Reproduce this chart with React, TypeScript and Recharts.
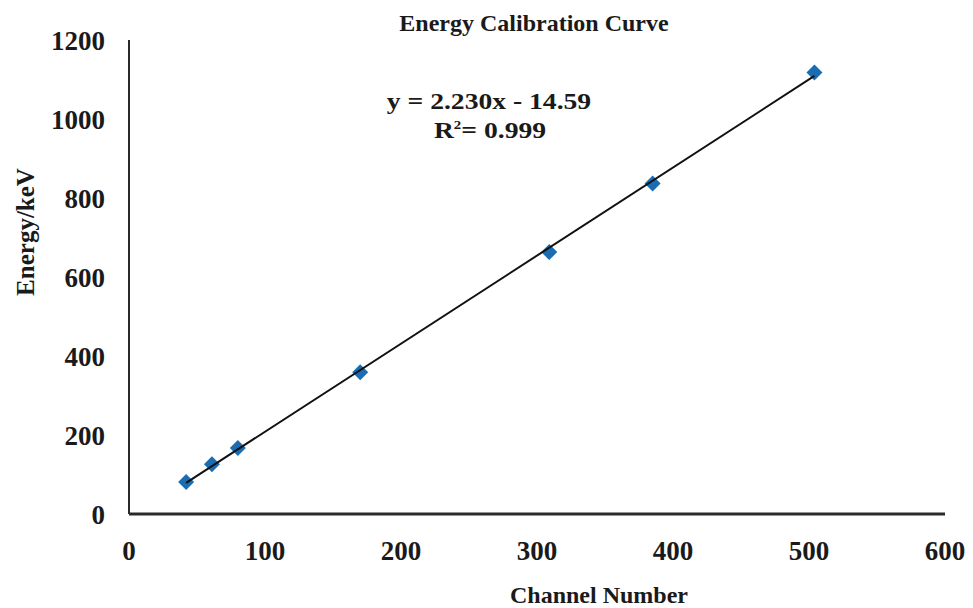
import React from "react";
import { ScatterChart, Scatter, XAxis, YAxis } from "recharts";

// channel / energy pairs
const channels = [42, 61, 80, 170, 309, 385, 504];
const energies = [81, 126, 167, 359, 663, 837, 1118];

// linear fit y = 2.230x - 14.59, drawn between the first and last channel
const trendChannels = [42, 504];
const trendEnergies = [79, 1109];

const xTicks = [0, 100, 200, 300, 400, 500, 600];
const yTicks = [0, 200, 400, 600, 800, 1000, 1200];

const points = channels.map((c, i) => ({ x: c, y: energies[i] }));
const trend = trendChannels.map((c, i) => ({ x: c, y: trendEnergies[i] }));

const SERIF = '"Liberation Serif", "Times New Roman", serif';

const Diamond = (props: any) => {
  const { cx, cy } = props;
  if (cx == null || cy == null) return <g />;
  const r = 8;
  return (
    <polygon
      points={`${cx},${cy - r} ${cx + r},${cy} ${cx},${cy + r} ${cx - r},${cy}`}
      fill="#1b6db3"
    />
  );
};

const Txt = ({ x, y, size, bold, rotate, stretch, children }: any) => (
  <div
    style={{
      position: "absolute",
      left: x,
      top: y,
      transform: `translate(-50%, -50%)${rotate ? ` rotate(${rotate}deg)` : ""}${stretch ? ` scaleX(${stretch})` : ""}`,
      fontFamily: SERIF,
      fontSize: size,
      fontWeight: bold ? 700 : 400,
      lineHeight: 1,
      whiteSpace: "nowrap",
      color: "#1a1a1a",
    }}
  >
    {children}
  </div>
);

const tickStyle = { fontFamily: SERIF, fontSize: 27, fontWeight: 700, fill: "#1a1a1a" };

export default function App() {
  return (
    <div style={{ position: "absolute", left: 0, top: 0, width: 973, height: 608, background: "#fff" }}>
      <ScatterChart width={973} height={608} margin={{ top: 40, right: 28, bottom: 0, left: 0 }}>
        <XAxis
          type="number"
          dataKey="x"
          domain={[0, 600]}
          ticks={xTicks}
          height={94}
          tickSize={0}
          tickMargin={27}
          axisLine={{ stroke: "#2a2a2a", strokeWidth: 3 }}
          tick={tickStyle}
        />
        <YAxis
          type="number"
          dataKey="y"
          domain={[0, 1200]}
          ticks={yTicks}
          width={129}
          tickSize={0}
          tickMargin={24}
          axisLine={{ stroke: "#2a2a2a", strokeWidth: 2 }}
          tick={tickStyle}
        />
        <Scatter data={points} shape={Diamond} isAnimationActive={false} />
        <Scatter
          data={trend}
          line={{ stroke: "#111", strokeWidth: 2 }}
          shape={() => <g />}
          isAnimationActive={false}
        />
      </ScatterChart>
      <Txt x={534} y={23} size={24} bold>
        Energy Calibration Curve
      </Txt>
      <Txt x={25} y={232} size={25} bold rotate={-90}>
        Energy/keV
      </Txt>
      <Txt x={599} y={595} size={24} bold>
        Channel Number
      </Txt>
      <Txt x={489} y={101} size={24} bold stretch={1.15}>
        y = 2.230x - 14.59
      </Txt>
      <Txt x={490} y={130} size={24} bold stretch={1.15}>
        R<sup style={{ fontSize: 13 }}>2</sup>= 0.999
      </Txt>
    </div>
  );
}
